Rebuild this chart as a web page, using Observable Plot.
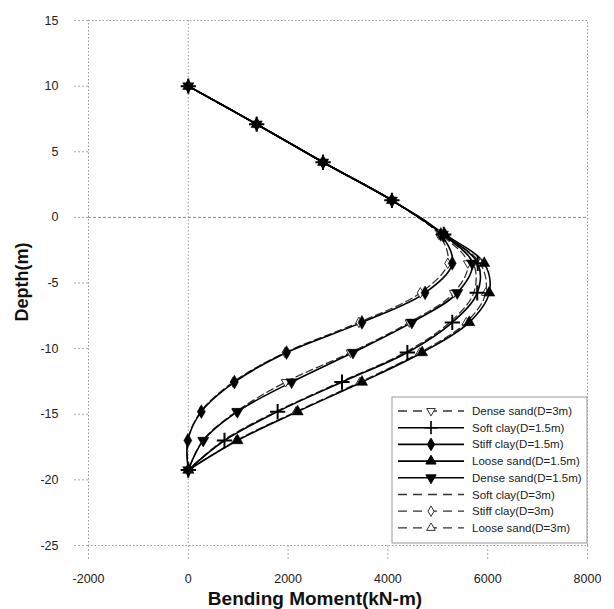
<!DOCTYPE html>
<html>
<head>
<meta charset="utf-8">
<script src="https://cdn.jsdelivr.net/npm/d3@7"></script>
<script src="https://cdn.jsdelivr.net/npm/@observablehq/plot@0.6"></script>
<style>
  body { margin: 0; background: #fff; }
  #chart { position: relative; width: 614px; height: 609px; }
</style>
</head>
<body>
<div id="chart"></div>
<script>
// Depths of the pile nodes (m)
const depths = [10, 7.1, 4.2, 1.3, -1.3, -3.5, -5.75, -8.0, -10.3, -12.55, -14.8, -17.0, -19.25];

// Bending moment (kN-m), D = 1.5 m
const softClay15  = [0, 1370, 2700, 4080, 5120, 5800, 5790, 5290, 4390, 3080, 1790, 725, 0];
const stiffClay15 = [0, 1370, 2700, 4080, 5060, 5290, 4745, 3480, 1970, 925, 262, -10, 0];
const looseSand15 = [0, 1370, 2700, 4080, 5140, 5930, 6030, 5630, 4685, 3480, 2190, 985, 0];
const denseSand15 = [0, 1370, 2700, 4080, 5100, 5690, 5390, 4480, 3300, 2070, 985, 300, 0];

// Bending moment (kN-m), D = 3 m
const denseSand3 = [0, 1370, 2700, 4080, 5060, 5600, 5320, 4430, 3250, 1950, 960, 290, 0];
const softClay3  = [0, 1370, 2700, 4080, 5080, 5710, 5720, 5240, 4340, 3040, 1760, 700, 0];
const stiffClay3 = [0, 1370, 2700, 4080, 5020, 5200, 4650, 3420, 1940, 900, 250, -10, 0];
const looseSand3 = [0, 1370, 2700, 4080, 5100, 5850, 5960, 5570, 4640, 3440, 2160, 960, 0];

const xTicks = [-2000, 0, 2000, 4000, 6000, 8000];
const yTicks = [15, 10, 5, 0, -5, -10, -15, -20, -25];

const xTitle = "Bending Moment(kN-m)";
const yTitle = "Depth(m)";

// Series definitions (legend order)
const series = [
  {name: "Dense sand(D=3m)",   values: denseSand3,  dashed: true,  symbol: "triangle", rotate: 180, hollow: true},
  {name: "Soft clay(D=1.5m)",  values: softClay15,  dashed: false, symbol: "plus",     rotate: 0,   hollow: false},
  {name: "Stiff clay(D=1.5m)", values: stiffClay15, dashed: false, symbol: "diamond",  rotate: 0,   hollow: false},
  {name: "Loose sand(D=1.5m)", values: looseSand15, dashed: false, symbol: "triangle", rotate: 0,   hollow: false},
  {name: "Dense sand(D=1.5m)", values: denseSand15, dashed: false, symbol: "triangle", rotate: 180, hollow: false},
  {name: "Soft clay(D=3m)",    values: softClay3,   dashed: true,  symbol: null,       rotate: 0,   hollow: true},
  {name: "Stiff clay(D=3m)",   values: stiffClay3,  dashed: true,  symbol: "diamond",  rotate: 0,   hollow: true},
  {name: "Loose sand(D=3m)",   values: looseSand3,  dashed: true,  symbol: "triangle", rotate: 0,   hollow: true}
];

const rows = series.map(s => s.values.map((v, i) => ({series: s.name, m: v, d: depths[i]})));
const fmt = d => String(d);

const marks = [
  Plot.frame({stroke: "#9a9a9a", strokeDasharray: "1.5,2"}),
  Plot.ruleX([0], {stroke: "#9a9a9a", strokeDasharray: "1.5,2"}),
  Plot.ruleY([0], {stroke: "#8a8a8a", strokeDasharray: "3,2"}),
  Plot.axisX(xTicks, {tickSize: 14, tickPadding: 15, stroke: "#aaa", strokeDasharray: "2,2", fill: "#222", fontSize: 12.5, tickFormat: fmt, label: null}),
  Plot.axisY(yTicks, {tickSize: 14, tickPadding: 16, stroke: "#aaa", strokeDasharray: "2,2", fill: "#222", fontSize: 12.5, tickFormat: fmt, label: null}),
];

// dashed D=3 lines first (underneath)
series.forEach((s, k) => {
  if (s.dashed) marks.push(Plot.line(rows[k], {x: "m", y: "d", curve: "catmull-rom", stroke: "#333", strokeWidth: 1.3, strokeDasharray: "7,4"}));
});
series.forEach((s, k) => {
  if (!s.dashed) marks.push(Plot.line(rows[k], {x: "m", y: "d", curve: "catmull-rom", stroke: "#000", strokeWidth: 1.6}));
});
series.forEach((s, k) => {
  if (s.symbol && s.hollow) marks.push(Plot.dot(rows[k], {x: "m", y: "d", symbol: s.symbol, rotate: s.rotate, r: 3.2, fill: "#fff", stroke: "#333", strokeWidth: 1}));
});
series.forEach((s, k) => {
  if (s.symbol && !s.hollow) {
    if (s.symbol === "plus") marks.push(Plot.dot(rows[k], {x: "m", y: "d", symbol: "plus", r: 5, stroke: "#000", strokeWidth: 2}));
    else marks.push(Plot.dot(rows[k], {x: "m", y: "d", symbol: s.symbol, rotate: s.rotate, r: 4.2, fill: "#000", stroke: "#000", strokeWidth: 0.5}));
  }
});

const chart = Plot.plot({
  width: 614,
  height: 609,
  marginLeft: 88,
  marginRight: 27,
  marginTop: 20,
  marginBottom: 64,
  style: {fontFamily: "'Liberation Sans', Arial, sans-serif", background: "#fff"},
  x: {domain: [-2000, 8000], axis: null},
  y: {domain: [-25, 15], axis: null},
  marks
});
document.getElementById("chart").appendChild(chart);

const svg = d3.select(chart);

// Axis titles
svg.append("text").attr("transform", "translate(22,282) rotate(-90)")
  .attr("text-anchor", "middle").attr("dy", "0.35em")
  .attr("font-size", 18).attr("font-weight", "bold").attr("fill", "#111").text(yTitle);
svg.append("text").attr("x", 315).attr("y", 598)
  .attr("text-anchor", "middle").attr("dy", "0.35em")
  .attr("font-size", 19).attr("font-weight", "bold").attr("fill", "#111").text(xTitle);

// Legend box
const lg = svg.append("g").attr("transform", "translate(392,397)");
lg.append("rect").attr("x", 0).attr("y", 0).attr("width", 195).attr("height", 146)
  .attr("fill", "#fff").attr("stroke", "#999").attr("stroke-width", 1);
series.forEach((s, i) => {
  const y = 14 + i * 16.7;
  const g = lg.append("g").attr("transform", `translate(0,${y})`);
  g.append("line").attr("x1", 6).attr("x2", 72).attr("y1", 0).attr("y2", 0)
    .attr("stroke", s.dashed ? "#333" : "#000").attr("stroke-width", s.dashed ? 1.3 : 1.6)
    .attr("stroke-dasharray", s.dashed ? "9,6" : null);
  if (s.symbol) {
    const type = {triangle: d3.symbolTriangle, diamond: d3.symbolDiamond, plus: d3.symbolPlus}[s.symbol];
    const size = s.symbol === "plus" ? 60 : (s.hollow ? 32 : 45);
    g.append("path").attr("d", d3.symbol(type, size)())
      .attr("transform", `translate(39,0) rotate(${s.rotate})`)
      .attr("fill", s.symbol === "plus" ? "none" : (s.hollow ? "#fff" : "#000"))
      .attr("stroke", s.hollow ? "#333" : "#000").attr("stroke-width", s.symbol === "plus" ? 1.6 : 1);
  }
  g.append("text").attr("x", 80).attr("y", 0).attr("dy", "0.35em")
    .attr("text-anchor", "start")
    .attr("font-size", 11.5).attr("fill", "#222").text(s.name);
});
</script>
</body>
</html>
